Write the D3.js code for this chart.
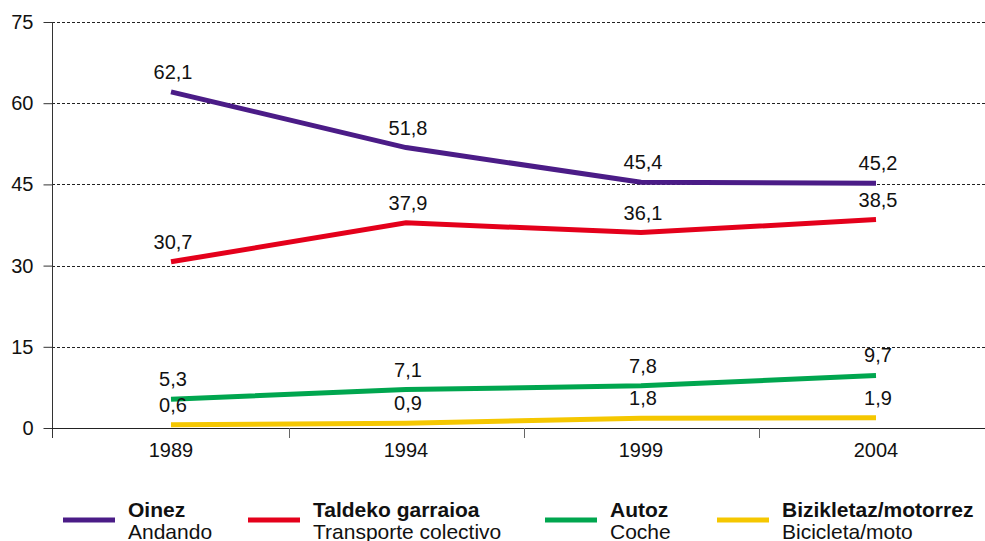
<!DOCTYPE html>
<html><head><meta charset="utf-8">
<script src="https://cdn.jsdelivr.net/npm/d3@7"></script>
<style>body{margin:0;background:#fff}svg{display:block;font-family:"Liberation Sans",Arial,sans-serif}</style>
</head><body><svg id="c" width="985" height="541"></svg>
<script>
const years = ["1989","1994","1999","2004"];
const oinez = [62.1, 51.8, 45.4, 45.2];
const taldeko = [30.7, 37.9, 36.1, 38.5];
const autoz = [5.3, 7.1, 7.8, 9.7];
const bizikleta = [0.6, 0.9, 1.8, 1.9];
const yTicks = [0, 15, 30, 45, 60, 75];
const seriesNames = ["Oinez","Taldeko garraioa","Autoz","Bizikletaz/motorrez"];
const seriesSub = ["Andando","Transporte colectivo","Coche","Bicicleta/moto"];
const colors = ["#4B1C87","#E4001B","#00A64F","#F5C700"];

const series = [oinez, taldeko, autoz, bizikleta].map((v,i)=>({name:seriesNames[i], sub:seriesSub[i], color:colors[i], values:v}));
const FONT = "Liberation Sans, Arial, sans-serif";

const svg = d3.select("#c");
const x = d3.scaleBand().domain(years).range([53.5, 993.5]);
const y = d3.scaleLinear().domain([0,75]).range([428, 22]);
const cx = d => x(d) + x.bandwidth()/2;

// gridlines
svg.append("g").selectAll("line").data(yTicks.filter(t=>t>0)).join("line")
  .attr("x1",52).attr("x2",985).attr("y1",d=>Math.round(y(d))+0.5).attr("y2",d=>Math.round(y(d))+0.5)
  .attr("stroke","#222").attr("stroke-width",1).attr("stroke-dasharray","3,2");

// y axis
const yAxis = svg.append("g").attr("transform","translate(52.5,0)")
  .call(d3.axisLeft(y).tickValues(yTicks).tickSize(9).tickPadding(10).tickFormat(d3.format("d")));
yAxis.select(".domain").attr("d","M0,"+y(75)+"V438").attr("stroke","#333");
yAxis.selectAll(".tick line").attr("stroke","#333");
yAxis.selectAll("text").attr("font-size",20).attr("fill","#111").attr("font-family",FONT);

// x axis
const xAxis = svg.append("g").attr("transform","translate(0,428.5)")
  .call(d3.axisBottom(x).tickSize(0));
xAxis.select(".domain").attr("d","M52,0H985").attr("stroke","#222").attr("stroke-width",1.2);
xAxis.selectAll("text").attr("font-size",20).attr("fill","#111").attr("font-family",FONT)
  .attr("dy",null).attr("y",28.5);
// boundary ticks
svg.append("g").selectAll("line").data(years.slice(1)).join("line")
  .attr("x1",d=>Math.round(x(d))+0.5).attr("x2",d=>Math.round(x(d))+0.5)
  .attr("y1",428).attr("y2",438).attr("stroke","#666");

// lines
const line = d3.line().x((d,i)=>cx(years[i])).y(d=>y(d));
svg.append("g").selectAll("path").data(series).join("path")
  .attr("d",d=>line(d.values)).attr("fill","none").attr("stroke",d=>d.color).attr("stroke-width",5);

// value labels
const fmt = v => d3.format(".1f")(v).replace(".",",");
series.forEach(s=>{
  svg.append("g").selectAll("text").data(s.values).join("text")
    .attr("x",(d,i)=>cx(years[i])+2).attr("y",d=>y(d)-13)
    .attr("text-anchor","middle").attr("font-size",20).attr("fill","#111")
    .text(fmt);
});

// legend
const legX = [63, 248, 545, 717];
const lg = svg.append("g").selectAll("g").data(series).join("g")
  .attr("transform",(d,i)=>`translate(${legX[i]},0)`);
lg.append("line").attr("x1",0).attr("x2",52).attr("y1",520).attr("y2",520)
  .attr("stroke",d=>d.color).attr("stroke-width",5);
lg.append("text").attr("x",65).attr("y",517).attr("font-size",21).attr("font-weight","bold").attr("fill","#111").text(d=>d.name);
lg.append("text").attr("x",65).attr("y",539).attr("font-size",21).attr("fill","#111").text(d=>d.sub);
</script></body></html>
